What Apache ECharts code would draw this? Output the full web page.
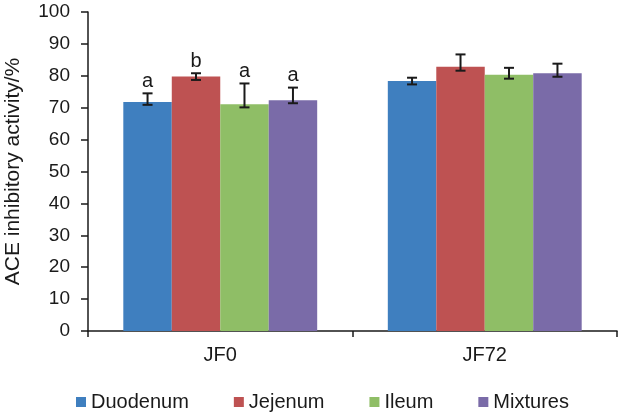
<!DOCTYPE html>
<html>
<head>
<meta charset="utf-8">
<script src="https://cdn.jsdelivr.net/npm/echarts@6/dist/echarts.min.js"></script>
<style>html,body{margin:0;padding:0;background:#fff;}#c{width:621px;height:414px;}</style>
</head>
<body>
<div id="c"></div>
<script>
const categories = ['JF0', 'JF72'];
const seriesNames = ['Duodenum', 'Jejenum', 'Ileum', 'Mixtures'];
const duodenum = [71.8, 78.4];
const jejenum = [79.8, 82.8];
const ileum = [71.1, 80.3];
const mixtures = [72.3, 80.8];
const duodenumLow = [70.9, 77.3], duodenumHigh = [74.5, 79.4];
const jejenumLow = [78.7, 81.6], jejenumHigh = [80.8, 86.7];
const ileumLow = [70.1, 79.1], ileumHigh = [77.6, 82.5];
const mixturesLow = [71.4, 79.7], mixturesHigh = [76.3, 83.8];
const lettersJF0 = ['a', 'b', 'a', 'a'];
const lettersJF72 = ['', '', '', ''];
const yTicks = [0, 10, 20, 30, 40, 50, 60, 70, 80, 90, 100];

const colors = ['#3F7FBF', '#BE5252', '#8FBE66', '#7A6BA8'];
const values = [duodenum, jejenum, ileum, mixtures];
const lows = [duodenumLow, jejenumLow, ileumLow, mixturesLow];
const highs = [duodenumHigh, jejenumHigh, ileumHigh, mixturesHigh];
const letters = [lettersJF0, lettersJF72];
const gapRatio = 0.267;
const font = '"Liberation Sans", Arial, sans-serif';

const errData = [];
for (let s = 0; s < 4; s++) {
  for (let c = 0; c < categories.length; c++) {
    errData.push([c, lows[s][c], highs[s][c], s, letters[c][s]]);
  }
}

const series = seriesNames.map((n, i) => ({
  name: n, type: 'bar', data: values[i], barGap: '0%', barCategoryGap: (gapRatio * 100) + '%',
  itemStyle: { color: colors[i] }, silent: true
}));
series.push({
  type: 'custom', data: errData, z: 10, silent: true,
  encode: { x: 0, y: [1, 2] },
  renderItem: function (params, api) {
    const c = api.value(0), lo = api.value(1), hi = api.value(2), s = api.value(3);
    const letter = errData[params.dataIndex][4];
    const band = api.size([1, 0])[0];
    const barW = band * (1 - gapRatio) / 4;
    const cx = api.coord([c, 0])[0] + (s - 1.5) * barW;
    const yLo = api.coord([c, lo])[1], yHi = api.coord([c, hi])[1];
    const cap = 5;
    const st = { stroke: '#1a1a1a', lineWidth: 2 };
    const children = [
      { type: 'line', shape: { x1: cx, y1: yLo, x2: cx, y2: yHi }, style: st },
      { type: 'line', shape: { x1: cx - cap, y1: yLo, x2: cx + cap, y2: yLo }, style: st },
      { type: 'line', shape: { x1: cx - cap, y1: yHi, x2: cx + cap, y2: yHi }, style: st }
    ];
    if (letter) {
      children.push({ type: 'text', style: { text: letter, x: cx, y: yHi - 2, textAlign: 'center', textVerticalAlign: 'bottom', fill: '#1a1a1a', font: '20px ' + font } });
    }
    return { type: 'group', children: children };
  }
});

const chart = echarts.init(document.getElementById('c'), null, { renderer: 'canvas' });
chart.setOption({
  animation: false,
  textStyle: { fontFamily: font },
  grid: { left: 88, right: 4, top: 12, bottom: 83, containLabel: false, outerBoundsMode: 'none' },
  legend: {
    data: seriesNames, left: 71, top: 387, itemWidth: 10, itemHeight: 10, itemGap: 45,
    icon: 'rect', textStyle: { fontSize: 20, color: '#1a1a1a', fontFamily: font },
    selectedMode: false
  },
  xAxis: {
    type: 'category', data: categories,
    axisLine: { lineStyle: { color: '#1a1a1a', width: 1.5 } },
    axisTick: { show: true, length: 6, lineStyle: { color: '#1a1a1a', width: 1.5 } },
    axisLabel: { fontSize: 20, color: '#1a1a1a', margin: 14, fontFamily: font }
  },
  yAxis: {
    type: 'value', min: yTicks[0], max: yTicks[yTicks.length - 1], interval: 10,
    name: 'ACE inhibitory activity/%', nameLocation: 'middle', nameGap: 64,
    nameTextStyle: { fontSize: 21, color: '#1a1a1a', fontFamily: font },
    axisLine: { show: true, lineStyle: { color: '#1a1a1a', width: 1.5 } },
    axisTick: { show: true, length: 7, lineStyle: { color: '#1a1a1a', width: 1.5 } },
    axisLabel: { fontSize: 19, color: '#1a1a1a', margin: 18, fontFamily: font },
    splitLine: { show: false }
  },
  series: series
});
</script>
</body>
</html>
